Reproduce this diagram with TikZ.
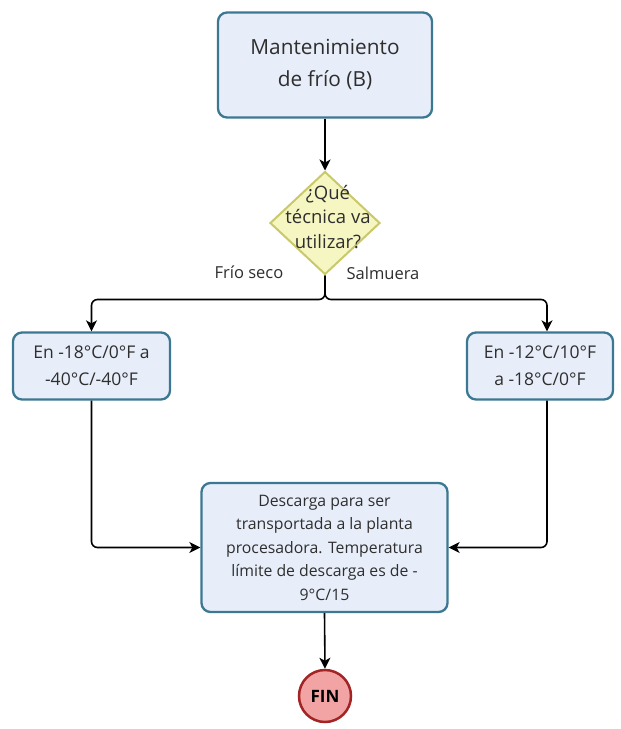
\documentclass[tikz,border=0pt]{standalone}
\usepackage{fontspec}
\setmainfont{Open Sans}
\usetikzlibrary{shapes.geometric,arrows.meta}
\definecolor{boxfill}{HTML}{E7EEF9}
\definecolor{boxline}{HTML}{3D7892}
\definecolor{decfill}{HTML}{F6F6C2}
\definecolor{decline}{HTML}{C9C86A}
\definecolor{endfill}{HTML}{F2A3A3}
\definecolor{endline}{HTML}{A32424}
\definecolor{txt}{HTML}{2E2E2E}
\begin{document}
\begin{tikzpicture}[x=1pt,y=-1pt,
  proc/.style={draw=boxline, fill=boxfill, line width=2.3pt, rounded corners=9pt,
    align=center, inner sep=0pt, text=txt},
  decision/.style={diamond, draw=decline, fill=decfill, line width=2pt, inner sep=0pt},
  endnode/.style={circle, draw=endline, fill=endfill, line width=2.5pt, inner sep=0pt,
    minimum size=52pt, font=\fontsize{17}{17}\selectfont\bfseries},
  conn/.style={draw=black, line width=1.6pt, -{Stealth[length=11pt,width=11pt,inset=3pt]}},
  lab/.style={text=txt, font=\fontsize{16.5}{19}\selectfont}]
\useasboundingbox (0,0) rectangle (621,729);
\fill[white] (0,0) rectangle (621,729);

% boxes
\node[proc, minimum width=214pt, minimum height=105pt,
  font=\fontsize{20.8}{32}\selectfont] (start) at (325,65)
  {Mantenimiento\\de frío (B)};

\node[decision, minimum width=110pt, minimum height=103pt] (dec) at (325,223) {};
\node[align=center, inner sep=0pt, text=txt, font=\fontsize{18.5}{24.5}\selectfont]
  (dectext) at (328,217) {¿Qué\\técnica va\\utilizar?};

\node[proc, minimum width=157pt, minimum height=67pt,
  font=\fontsize{17.5}{27}\selectfont] (lbox) at (91.5,366)
  {En -18°C/0°F a\\-40°C/-40°F};
\node[proc, minimum width=146pt, minimum height=67pt,
  font=\fontsize{17.5}{27}\selectfont] (rbox) at (540,366)
  {En -12°C/10°F\\a -18°C/0°F};

\node[proc, minimum width=246pt, minimum height=129pt,
  font=\fontsize{15.8}{23.5}\selectfont] (down) at (324.5,547.5)
  {Descarga para ser\\transportada a la planta\\procesadora. Temperatura\\límite de descarga es de -\\9°C/15};

\node[endnode] (fin) at (325,696) {FIN};

% branch labels
\node[lab] (lfrio) at (249,272) {Frío seco};
\node[lab] (lsal) at (383,273) {Salmuera};

% connectors
\draw[conn] (start.south) -- (dec.north);
\draw[conn, rounded corners=6pt] (dec.south) -- ++(0,24) -| (lbox.north);
\draw[conn, rounded corners=6pt] (dec.south) -- ++(0,24) -| ([xshift=7pt]rbox.north);
\draw[conn, rounded corners=6pt] (lbox.south) |- (down.west);
\draw[conn, rounded corners=6pt] ([xshift=7pt]rbox.south) |- (down.east);
\draw[conn] (down.south) -- (fin.north);
\end{tikzpicture}
\end{document}
